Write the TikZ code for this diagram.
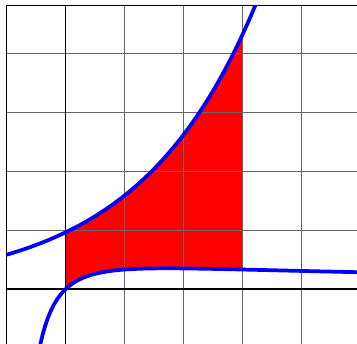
\documentclass[tikz,border=0pt]{standalone}
\usepackage{tikz}
\usetikzlibrary{calc}
\definecolor{GridGray}{RGB}{102,102,102}

\begin{document}
\begin{tikzpicture}[x=1cm,y=0.963cm,
  gridline/.style={draw=GridGray,line width=0.5pt},
  frameline/.style={draw=black,line width=0.5pt},
  axisline/.style={black,line width=0.8pt},
  curve/.style={blue,line width=1.8pt,samples=150},
  area/.style={fill=red,draw=none},
]
\useasboundingbox (-1.11,-0.96) rectangle (4.94,5.09);
% —— 区域 ——
\fill[area] plot[domain=0:3,samples=80] (\x,{exp(\x/2)})
  -- plot[domain=0:3,samples=80] ({3-\x},{ln(4-\x)/(4-\x)}) -- cycle;

% —— 网格与坐标轴 ——
\draw[gridline] (-1,-1) grid (5,5);
\draw[frameline] (-1,-1) rectangle (5,5);
\draw[axisline] (-1,0) -- (5,0);
\draw[axisline] (0,-1) -- (0,5);

% —— 曲线 ——
\begin{scope}
  \clip (-1,-1) rectangle (5,5);
  \draw[curve,domain=-1:3.3] plot (\x,{exp(\x/2)});
  \draw[curve,domain=-0.46:5.2] plot (\x,{ln(\x+1)/(\x+1)});
\end{scope}
\end{tikzpicture}
\end{document}
